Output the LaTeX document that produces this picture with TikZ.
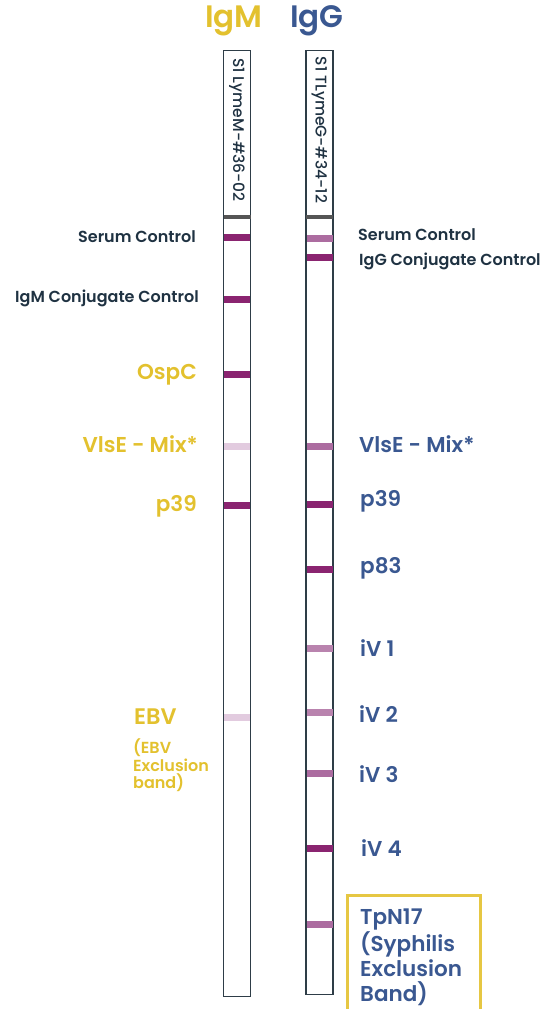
\documentclass[tikz,border=0pt]{standalone}
\usepackage{fontspec}
\setmainfont{Poppins}[BoldFont={Poppins SemiBold}]
\newfontfamily\pmed{Poppins Medium}
\definecolor{ygold}{HTML}{E3C12E}
\definecolor{gblue}{HTML}{3A5891}
\definecolor{dnavy}{HTML}{1F3242}
\definecolor{edge}{HTML}{2E3D47}
\definecolor{bdark}{HTML}{8A2470}
\definecolor{bmed}{HTML}{AC6CA0}
\definecolor{bmid}{HTML}{B983AE}
\definecolor{blight}{HTML}{E2CBDF}
\definecolor{sepgray}{HTML}{555555}
\tikzset{
  strip/.style={draw=edge, line width=1.3pt, fill=white, minimum width=27pt, inner sep=0pt, outer sep=0pt},
  band/.style={minimum width=26pt, minimum height=7pt, inner sep=0pt, outer sep=0pt, draw=none},
  sep/.style={fill=sepgray, minimum width=27pt, minimum height=4pt, inner sep=0pt, draw=none},
  stlab/.style={rotate=-90, font=\pmed\fontsize{15.5}{16}\selectfont, text=dnavy, inner sep=0pt},
  smallL/.style={anchor=east, font=\bfseries\fontsize{16}{17}\selectfont, text=dnavy, inner sep=0pt},
  smallR/.style={anchor=west, font=\bfseries\fontsize{16}{17}\selectfont, text=dnavy, inner sep=0pt},
  bigL/.style={anchor=east, font=\bfseries\fontsize{21.5}{22}\selectfont, text=ygold, inner sep=0pt},
  bigR/.style={anchor=west, font=\bfseries\fontsize{21.5}{22}\selectfont, text=gblue, inner sep=0pt},
  title/.style={font=\bfseries\fontsize{31}{32}\selectfont, inner sep=0pt}
}
\begin{document}
\begin{tikzpicture}[x=1pt,y=-1pt]
\useasboundingbox[fill=white] (0,0) rectangle (550,1009);
% titles
\node[title, text=ygold] (tM) at (234,21) {IgM};
\node[title, text=gblue] (tG) at (317,21) {IgG};
% strips
\node[strip, minimum height=946pt] (stripL) at (237,523.5) {};
\node[strip, minimum height=944pt] (stripR) at (319.5,522.5) {};
\node[sep] (sepL) at (237,217) {};
\node[sep] (sepR) at (319.5,217) {};
\node[stlab] (idL) at (237,130) {S1 LymeM-\#36-02};
\node[stlab] (idR) at (319.5,130) {S1 TLymeG-\#34-12};
% left bands
\node[band, fill=bdark] (lb1) at (237,237) {};
\node[band, fill=bdark] (lb2) at (237,299) {};
\node[band, fill=bdark] (lb3) at (237,374) {};
\node[band, fill=blight] (lb4) at (237,446) {};
\node[band, fill=bdark] (lb5) at (237,505) {};
\node[band, fill=blight] (lb6) at (237,717) {};
% right bands
\node[band, fill=bmed] (rb1) at (319.5,238) {};
\node[band, fill=bdark] (rb2) at (319.5,257) {};
\node[band, fill=bmed] (rb3) at (319.5,446) {};
\node[band, fill=bdark] (rb4) at (319.5,504) {};
\node[band, fill=bdark] (rb5) at (319.5,569) {};
\node[band, fill=bmid] (rb6) at (319.5,648) {};
\node[band, fill=bmid] (rb7) at (319.5,712) {};
\node[band, fill=bmed] (rb8) at (319.5,773) {};
\node[band, fill=bdark] (rb9) at (319.5,848) {};
\node[band, fill=bmed] (rb10) at (319.5,924) {};
% left labels
\node[smallL] (ll1) at (196,237) {Serum Control};
\node[smallL] (ll2) at (199,298) {IgM Conjugate Control};
\node[bigL] (ll3) at (197,375) {OspC};
\node[bigL] (ll4) at (198,444) {VlsE - Mix*};
\node[bigL] (ll5) at (197,506) {p39};
\node[anchor=west, font=\bfseries\fontsize{22.5}{23}\selectfont, text=ygold, inner sep=0pt] (ll6) at (134,717) {EBV};
\node[anchor=north west, align=left, font=\bfseries\fontsize{16}{17.5}\selectfont, text=ygold, inner sep=0pt] (ll7) at (133,739) {(EBV\\Exclusion\\band)};
% right labels
\node[smallR] (rl1) at (358,235) {Serum Control};
\node[smallR] (rl2) at (359,261) {IgG Conjugate Control};
\node[bigR] (rl3) at (359,444) {VlsE - Mix*};
\node[bigR] (rl4) at (360,501) {p39};
\node[bigR] (rl5) at (360,568) {p83};
\node[bigR] (rl6) at (360,648) {iV 1};
\node[bigR] (rl7) at (359,714) {iV 2};
\node[bigR] (rl8) at (359,774) {iV 3};
\node[bigR] (rl9) at (361,848) {iV 4};
% TpN17 box
\draw[draw=ygold!90!white, line width=2.5pt] (347.5,1012) -- (347.5,895.5) -- (480.5,895.5) -- (480.5,1012);
\node[anchor=north west, align=left, font=\bfseries\fontsize{21.5}{25}\selectfont, text=gblue, inner sep=0pt] (tp) at (360,909) {TpN17\\(Syphilis\\Exclusion\\Band)};
\end{tikzpicture}
\end{document}
